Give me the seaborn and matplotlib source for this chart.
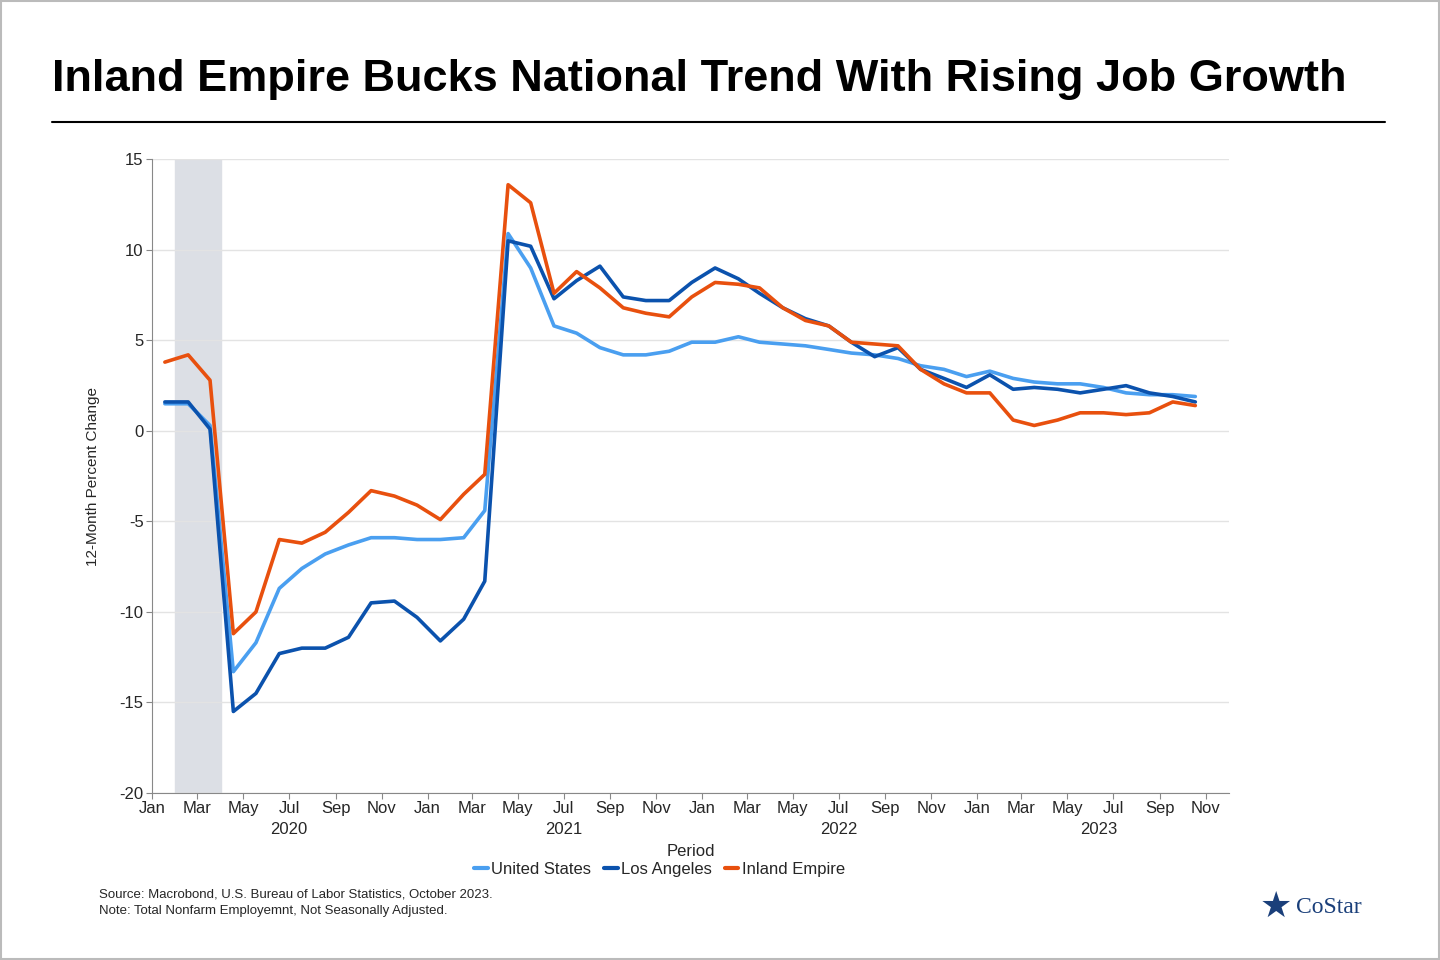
import pandas as pd
import matplotlib.pyplot as plt
import matplotlib.dates as mdates
import seaborn as sns

periods = pd.date_range("2020-01-01", periods=46, freq="MS") + pd.Timedelta(days=17)
us = [1.5, 1.5, 0.3, -13.3, -11.7, -8.7, -7.6, -6.8, -6.3, -5.9, -5.9, -6.0,
      -6.0, -5.9, -4.4, 10.9, 9.0, 5.8, 5.4, 4.6, 4.2, 4.2, 4.4, 4.9,
      4.9, 5.2, 4.9, 4.8, 4.7, 4.5, 4.3, 4.2, 4.0, 3.6, 3.4, 3.0,
      3.3, 2.9, 2.7, 2.6, 2.6, 2.4, 2.1, 2.0, 2.0, 1.9]
la = [1.6, 1.6, 0.1, -15.5, -14.5, -12.3, -12.0, -12.0, -11.4, -9.5, -9.4, -10.3,
      -11.6, -10.4, -8.3, 10.5, 10.2, 7.3, 8.3, 9.1, 7.4, 7.2, 7.2, 8.2,
      9.0, 8.4, 7.6, 6.8, 6.2, 5.8, 4.9, 4.1, 4.6, 3.4, 2.9, 2.4,
      3.1, 2.3, 2.4, 2.3, 2.1, 2.3, 2.5, 2.1, 1.9, 1.6]
ie = [3.8, 4.2, 2.8, -11.2, -10.0, -6.0, -6.2, -5.6, -4.5, -3.3, -3.6, -4.1,
      -4.9, -3.5, -2.4, 13.6, 12.6, 7.6, 8.8, 7.9, 6.8, 6.5, 6.3, 7.4,
      8.2, 8.1, 7.9, 6.8, 6.1, 5.8, 4.9, 4.8, 4.7, 3.4, 2.6, 2.1,
      2.1, 0.6, 0.3, 0.6, 1.0, 1.0, 0.9, 1.0, 1.6, 1.4]
series = ["United States", "Los Angeles", "Inland Empire"]
colors = ["#4a9ff0", "#0b52ad", "#e8500e"]
years = ["2020", "2021", "2022", "2023"]
year_pos = ["2020-07-01", "2021-07-01", "2022-07-01", "2023-06-12"]

df = pd.DataFrame({"Period": list(periods) * 3,
                   "value": us + la + ie,
                   "series": sum([[s] * 46 for s in series], [])})

sns.set_style("white")
plt.rcParams['font.family'] = ['Liberation Sans', 'DejaVu Sans']
plt.rcParams['axes.unicode_minus'] = False
fig = plt.figure(figsize=(14.4, 9.6), dpi=100)
ax = fig.add_axes([0.1056, 0.174, 0.748, 0.66])
ax.axvspan(pd.Timestamp("2020-02-01"), pd.Timestamp("2020-04-01"), color="#dcdfe5", zorder=0)
sns.lineplot(data=df, x="Period", y="value", hue="series", palette=colors,
             linewidth=2.6, ax=ax, legend=False)

ax.set_xlim(pd.Timestamp("2020-01-01"), pd.Timestamp("2023-12-02"))
ax.set_ylim(-20, 15)
ax.set_yticks(range(-20, 16, 5))
ax.yaxis.grid(True, color="#e3e3e3", linewidth=1)
ax.xaxis.set_major_locator(mdates.MonthLocator(bymonth=[1, 3, 5, 7, 9, 11]))
ax.xaxis.set_major_formatter(mdates.DateFormatter("%b"))
for s in ["top", "right"]:
    ax.spines[s].set_visible(False)
for s in ["left", "bottom"]:
    ax.spines[s].set_color("#888888")
ax.tick_params(axis="both", labelsize=12, length=4, pad=2, color="#888888", bottom=True, left=True)
for yr, pos in zip(years, year_pos):
    ax.text(pd.Timestamp(pos), -21.6, yr, ha="center", va="top", fontsize=12)
ax.set_xlabel("Period", fontsize=12, labelpad=20)
ax.set_ylabel("12-Month Percent Change", fontsize=11, labelpad=14)

handles = [plt.Line2D([], [], color=c, linewidth=3) for c in colors]
fig.legend(handles, series, loc="center", bbox_to_anchor=(0.458, 0.094), ncol=3,
           frameon=False, fontsize=12, handlelength=0.8, handletextpad=0.2, columnspacing=0.8)

fig.text(0.036, 0.917, "Inland Empire Bucks National Trend With Rising Job Growth",
         fontsize=32.5, fontweight="bold", va="center", color="black")
fig.add_artist(plt.Line2D([0.036, 0.962], [0.873, 0.873], color="black", linewidth=1.5))
fig.text(0.069, 0.068, "Source: Macrobond, U.S. Bureau of Labor Statistics, October 2023.", fontsize=9.5, va="center")
fig.text(0.069, 0.051, "Note: Total Nonfarm Employemnt, Not Seasonally Adjusted.", fontsize=9.5, va="center")
fig.text(0.886, 0.055, "\u2605", fontsize=26, color="#1a3f7a", ha="center", va="center")
fig.text(0.900, 0.055, "CoStar", fontsize=17, color="#1a3f7a", va="center",
         family=["Liberation Serif", "DejaVu Serif"])
fig.add_artist(plt.Rectangle((0.001, 0.001), 0.998, 0.998, fill=False, edgecolor="#bbbbbb",
                             linewidth=1.5, transform=fig.transFigure))
fig.savefig("out.png", dpi=100)
